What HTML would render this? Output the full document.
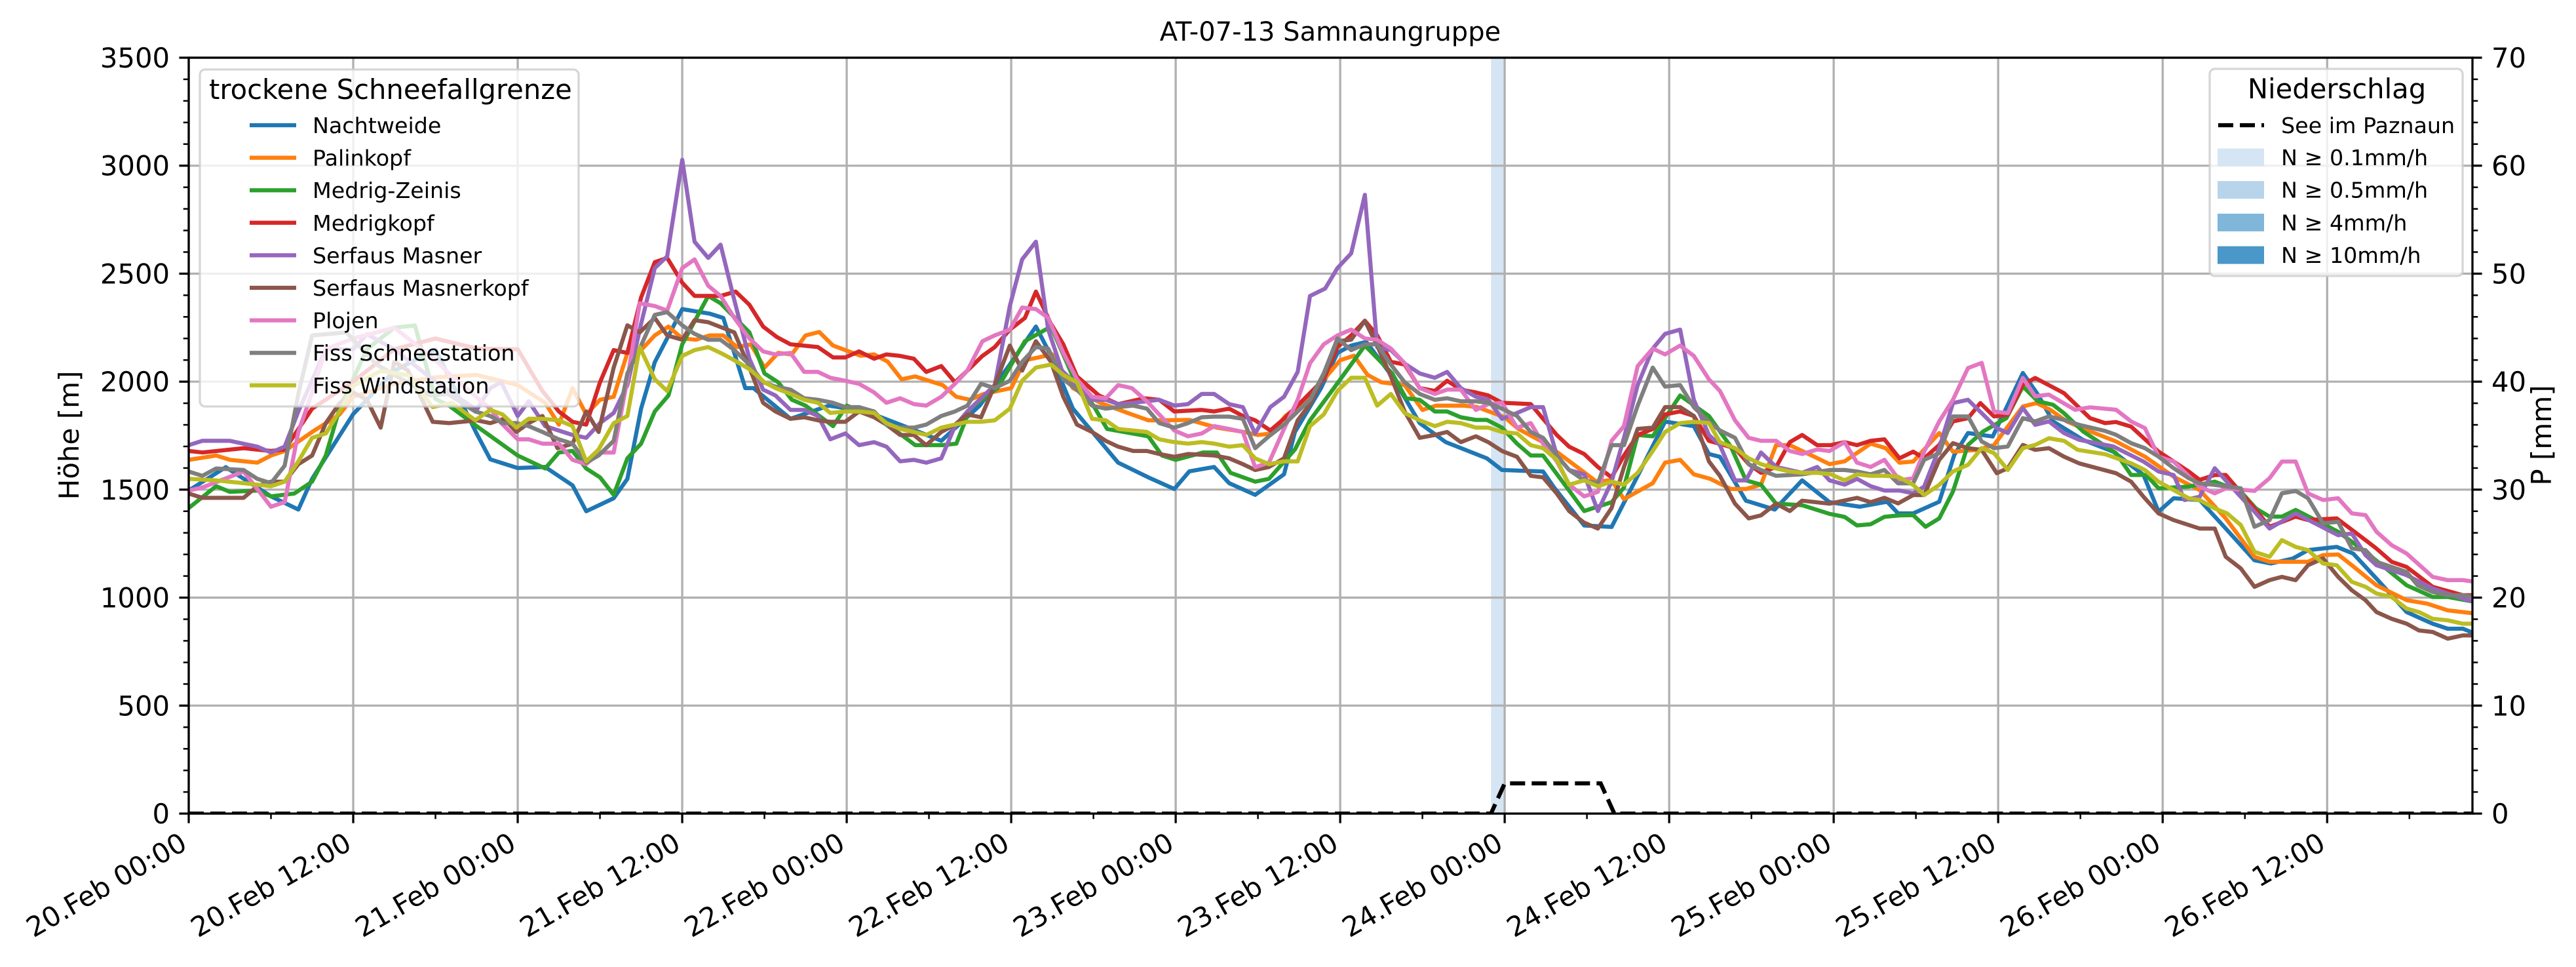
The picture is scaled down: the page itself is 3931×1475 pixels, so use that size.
<!DOCTYPE html>
<html>
<head>
<meta charset="utf-8">
<style>
html,body{margin:0;padding:0;background:#fff;}
svg{display:block;font-family:"DejaVu Sans","Liberation Sans",sans-serif;}
</style>
</head>
<body>
<svg id="chart" xmlns="http://www.w3.org/2000/svg" width="3931" height="1475" viewBox="0 0 3931 1475">
  <defs><clipPath id="plotclip"><rect x="288" y="88" width="3485" height="1153"/></clipPath></defs>
  <rect x="0" y="0" width="3931" height="1475" fill="#fff"/>
  <text x="2030" y="62" font-size="40" text-anchor="middle">AT-07-13 Samnaungruppe</text>
  <g id="bars" clip-path="url(#plotclip)"></g>
  <g id="grid"></g>
  <g id="series" clip-path="url(#plotclip)"></g>
  <g id="precip" clip-path="url(#plotclip)"></g>
  <g id="axes"></g>
  <text transform="translate(120,664) rotate(-90)" font-size="42" text-anchor="middle">Höhe [m]</text>
  <text transform="translate(3893,664) rotate(-90)" font-size="42" text-anchor="middle">P [mm]</text>
  <g id="legend1"></g>
  <g id="legend2"></g>
</svg>
<script>
const NS = "http://www.w3.org/2000/svg";
const seriesNames = ["Nachtweide","Palinkopf","Medrig-Zeinis","Medrigkopf","Serfaus Masner","Serfaus Masnerkopf","Plojen","Fiss Schneestation","Fiss Windstation"];
const seriesColors = ["#1f77b4","#ff7f0e","#2ca02c","#d62728","#9467bd","#8c564b","#e377c2","#7f7f7f","#bcbd22"];
const xTickLabels = ["20.Feb 00:00","20.Feb 12:00","21.Feb 00:00","21.Feb 12:00","22.Feb 00:00","22.Feb 12:00","23.Feb 00:00","23.Feb 12:00","24.Feb 00:00","24.Feb 12:00","25.Feb 00:00","25.Feb 12:00","26.Feb 00:00","26.Feb 12:00"];
const xTickHours = [0,12,24,36,48,60,72,84,96,108,120,132,144,156];
const yTicks = [0,500,1000,1500,2000,2500,3000,3500];
const y2Ticks = [0,10,20,30,40,50,60,70];
const precipBarStart = [95];
const precipBarEnd = [96];
const precipLine = [[0,0],[95,0],[96,2.8],[103,2.8],[104,0],[167,0]];

const nachtweide = [[0,1496],[2.7,1604],[6,1469],[8,1408],[9,1550],[12,1850],[15,2050],[18,2150],[21,1760],[22,1640],[24,1600],[26,1605],[28,1520],[29,1400],[31,1460],[32,1550],[33,1875],[34,2090],[36,2336],[38,2315],[39,2295],[40.6,1970],[41.2,1970],[43.9,1828],[46.7,1889],[49.4,1862],[52.2,1794],[54.9,1726],[57.7,1889],[59.9,2079],[61.8,2255],[62.9,2120],[64.5,1875],[67.8,1625],[70,1557],[71.9,1503],[73,1585],[74.8,1605],[75.9,1530],[77.8,1476],[79.9,1571],[80.7,1767],[82.6,1970],[83.8,2133],[84.8,2167],[85.9,2184],[87.8,2024],[89.8,1808],[91.7,1720],[94.7,1645],[95.8,1591],[98.8,1584],[99.6,1510],[101.8,1334],[103.8,1327],[105.7,1564],[107.7,1815],[109.8,1794],[110.9,1665],[111.7,1652],[113.6,1449],[115.7,1408],[117.7,1543],[119.7,1442],[121.9,1421],[123.9,1444],[124.7,1390],[125.8,1390],[127.7,1444],[128.8,1661],[129.8,1762],[131.6,1746],[133.8,2040],[134.9,1940],[136,1816],[138.2,1730],[140.4,1676],[142.6,1568],[143.7,1398],[144.8,1460],[146.7,1452],[148.6,1320],[150.7,1173],[151.9,1158],[153.5,1181],[154.6,1220],[156.7,1235],[157.9,1204],[159.6,1088],[161.8,933],[163.7,879],[164.8,856],[165.9,856],[166.8,833]];
const palinkopf = [[0,1638],[2,1658],[3,1638],[5,1625],[6,1658],[7,1679],[9,1767],[11,1848],[12,1930],[15,1990],[18,2020],[21,2031],[24,1984],[26,1902],[27,1801],[28,1970],[29,1848],[30,1916],[31,1930],[32,2133],[33,2146],[34,2214],[35,2255],[36,2200],[37,2194],[38,2214],[39,2214],[40,2160],[41,2173],[42,2065],[43,2133],[44,2126],[45,2214],[46,2230],[47,2167],[49,2120],[50,2126],[51,2092],[52,2011],[53,2024],[55,1984],[56,1930],[57,1916],[58,1943],[60,1970],[61,2099],[62,2112],[63,2126],[64.5,1970],[66.5,1902],[68.5,1855],[70,1821],[71,1821],[73,1823],[75,1787],[77,1767],[78,1753],[79,1760],[80,1841],[81,1889],[83,2024],[84,2099],[85,2120],[86,2031],[87,1997],[88.7,1984],[90,1869],[91,1889],[93,1889],[94,1882],[96,1835],[97,1781],[99,1713],[101,1618],[102.7,1537],[103.8,1544],[104.7,1456],[106.8,1530],[107.7,1625],[108.8,1638],[109.8,1571],[111,1550],[112.5,1503],[113.6,1503],[114.7,1523],[115.8,1706],[116.8,1706],[118.6,1652],[119.7,1618],[120.8,1631],[122.7,1713],[123.8,1692],[124.8,1625],[125.8,1630],[127.7,1762],[128.7,1676],[130.5,1684],[131.7,1707],[133.8,1885],[134.8,1901],[135.8,1870],[137,1816],[138.7,1770],[140.6,1723],[142.7,1653],[144.8,1560],[146.7,1498],[148.6,1367],[150.7,1189],[151.8,1166],[154.6,1166],[155.7,1197],[156.8,1200],[157.8,1150],[159.6,1057],[161.8,988],[163.3,972],[164.8,941],[165.9,933],[166.8,926]];
const medrigZeinis = [[0,1415],[2,1516],[3,1490],[5,1496],[6,1469],[7.7,1482],[9,1537],[10,1658],[11,1875],[13,2150],[15,2250],[16.5,2260],[18,1920],[19,1889],[21,1794],[24,1658],[26,1598],[27,1672],[28,1679],[29,1598],[30,1557],[31,1476],[32,1645],[33,1713],[34,1862],[35,1936],[36,2173],[37.9,2397],[38.8,2363],[40.9,2228],[42,2038],[43,1997],[44,1916],[45,1889],[47,1794],[48,1889],[50,1841],[52,1753],[53,1706],[55,1706],[56,1713],[57,1875],[59,1970],[61,2187],[62.9,2255],[64.5,2024],[66,1889],[67,1781],[70,1747],[71,1658],[72,1638],[74,1672],[75,1672],[76,1578],[77.8,1537],[78.8,1550],[80.7,1686],[81.8,1821],[83.7,1984],[85.8,2167],[87.8,2038],[88.8,1923],[89.8,1916],[90.9,1862],[91.8,1862],[92.8,1835],[93.9,1823],[94.7,1823],[95.8,1787],[96.9,1713],[97.9,1658],[98.8,1658],[100.7,1496],[101.8,1401],[103.8,1442],[104.7,1510],[105.7,1753],[106.8,1747],[108.8,1936],[110.9,1841],[112.5,1699],[113.6,1543],[114.7,1523],[115.8,1435],[117.7,1428],[119.7,1388],[120.8,1374],[121.7,1334],[122.7,1340],[123.7,1374],[124.8,1381],[125.8,1382],[126.7,1328],[127.7,1367],[128.7,1491],[129.8,1707],[130.9,1769],[132.6,1831],[133.8,1978],[134.9,1909],[136,1893],[136.8,1854],[138.2,1769],[140.6,1669],[141.7,1568],[142.8,1568],[143.7,1506],[145.9,1514],[147.8,1537],[149.7,1491],[150.8,1413],[151.8,1375],[152.7,1375],[153.7,1406],[156.8,1305],[158.8,1212],[161.8,1057],[163.7,1003],[164.8,1003],[166.8,980]];
const medrigkopf = [[0,1679],[1,1672],[4,1692],[6,1679],[7,1686],[9,1875],[12,2000],[15,2150],[18,2200],[21,2153],[24,2150],[25.8,1957],[27,1862],[28,1814],[29,1801],[30,1997],[31,2146],[32,2133],[33,2390],[34,2553],[34.9,2573],[36,2458],[36.9,2397],[38.8,2397],[39.9,2417],[40.9,2356],[41.9,2255],[42.9,2207],[43.9,2173],[45.9,2160],[47,2112],[47.9,2112],[48.9,2140],[50,2106],[50.9,2126],[51.9,2119],[52.9,2106],[53.8,2045],[54.9,2072],[55.9,1997],[56.8,2051],[57.9,2119],[58.8,2160],[59.9,2241],[61,2295],[61.8,2417],[62.9,2268],[63.8,2173],[64.8,2024],[66.4,1936],[67.8,1896],[69.7,1923],[70.8,1916],[71.9,1862],[73.9,1869],[74.8,1862],[75.9,1875],[76.9,1841],[77.8,1821],[78.9,1774],[79.9,1828],[81,1896],[82.8,2011],[83.8,2160],[84.8,2214],[85.8,2282],[86.7,2214],[87.7,2092],[88.7,2079],[89.8,1970],[90.9,1957],[91.8,2004],[92.8,1963],[93.9,1950],[94.8,1936],[95.8,1902],[97.9,1896],[98.8,1828],[99.8,1753],[100.7,1699],[101.8,1665],[102.8,1605],[103.8,1557],[104.7,1658],[105.7,1753],[106.8,1781],[107.7,1848],[108.8,1862],[109.8,1841],[110.9,1726],[112.8,1692],[113.8,1618],[114.7,1578],[115.8,1605],[116.8,1720],[117.7,1753],[118.8,1706],[119.8,1706],[120.8,1720],[121.7,1706],[122.7,1726],[123.7,1733],[124.8,1645],[125.8,1676],[126.6,1645],[127.7,1707],[128.7,1816],[129.8,1831],[130.7,1901],[131.7,1839],[132.7,1847],[133.8,1986],[134.7,2017],[136.8,1947],[138.7,1831],[139.8,1808],[140.6,1813],[141.7,1792],[143.7,1676],[145.9,1584],[146.7,1545],[147.8,1568],[148.6,1568],[150.7,1413],[151.8,1328],[153.7,1375],[154.6,1359],[156.7,1367],[158.8,1266],[159.6,1227],[160.7,1166],[161.8,1142],[163.7,1050],[165.9,1011],[166.8,1011]];
const serfausMasner = [[0,1706],[1,1726],[3,1726],[5,1699],[6,1672],[7,1699],[8,1862],[10,2150],[12,2150],[13,2220],[15,2150],[18,2000],[21,1869],[22,1970],[22.8,1997],[24,1841],[24.8,1909],[26,1794],[28,1753],[29,1740],[30,1808],[31,1855],[32,1984],[33,2268],[34,2526],[34.9,2580],[36,3027],[36.9,2648],[37.9,2573],[38.8,2634],[39.8,2377],[40.9,2106],[41.9,1963],[42.8,1936],[43.9,1869],[44.9,1869],[45.9,1841],[46.8,1733],[47.9,1760],[48.9,1706],[50,1720],[50.9,1699],[51.9,1631],[52.9,1638],[53.8,1625],[54.9,1645],[55.9,1794],[56.8,1862],[58.8,1984],[59.9,2350],[60.8,2566],[61.8,2648],[62.7,2241],[63.7,2051],[65.9,1916],[66.9,1916],[67.8,1896],[68.9,1902],[70.8,1916],[71.9,1889],[72.9,1896],[73.9,1943],[74.8,1943],[75.9,1896],[76.9,1882],[77.8,1760],[78.9,1882],[79.9,1930],[80.9,2045],[81.8,2397],[82.9,2431],[83.8,2526],[84.8,2594],[85.8,2865],[86.7,2160],[87.7,2146],[88.8,2079],[89.8,2038],[90.9,2018],[91.8,2045],[92.8,1970],[93.9,1930],[94.8,1916],[95.8,1828],[96.9,1855],[97.9,1882],[98.8,1882],[99.8,1658],[100.7,1591],[101.8,1571],[102.8,1401],[103.8,1537],[104.7,1740],[105.7,1984],[106.8,2153],[107.7,2221],[108.8,2241],[109.8,1916],[110.9,1753],[111.7,1706],[112.8,1543],[113.6,1543],[114.7,1672],[115.8,1605],[117.7,1578],[118.8,1605],[119.7,1543],[120.8,1523],[121.7,1550],[122.7,1516],[123.7,1496],[124.8,1496],[125.8,1483],[126.6,1514],[127.7,1692],[128.7,1901],[129.8,1916],[130.8,1854],[131.9,1785],[132.7,1762],[133.8,1878],[134.7,1800],[135.7,1816],[136.8,1762],[137.9,1731],[140.4,1700],[142.6,1630],[143.7,1584],[144.8,1568],[145.6,1452],[146.7,1467],[147.8,1599],[148.9,1522],[150.7,1398],[151.8,1320],[153.7,1390],[156.8,1289],[157.8,1297],[158.8,1197],[159.6,1150],[161.8,1104],[163.7,1042],[165.9,995],[166.8,980]];
const serfausMasnerkopf = [[0,1482],[1,1462],[4,1462],[5,1516],[6,1537],[7,1537],[8,1618],[9,1658],[10,1808],[11,1900],[12,1950],[13,1916],[14,1787],[15,2092],[16,2051],[17.8,1814],[19,1808],[21,1821],[22,1808],[23,1828],[23.9,1767],[24.8,1808],[25.8,1841],[26.9,1692],[28,1713],[29,1862],[29.9,1767],[31,2065],[32,2261],[32.9,2228],[34,2295],[34.9,2214],[36,2194],[36.9,2285],[37.9,2275],[39.8,2228],[40.9,2065],[41.9,1902],[42.8,1862],[43.9,1828],[44.9,1835],[45.9,1821],[46.8,1814],[47.9,1814],[48.9,1862],[50,1835],[50.9,1801],[51.9,1753],[52.9,1753],[53.8,1706],[54.9,1767],[55.9,1801],[56.8,1848],[57.8,1835],[58.8,1984],[59.9,2167],[60.8,2051],[61.8,2187],[62.9,2092],[63.8,1930],[64.8,1801],[65.9,1767],[66.9,1726],[67.8,1699],[68.9,1679],[69.9,1679],[70.8,1665],[71.9,1652],[72.9,1665],[74.8,1658],[75.9,1645],[76.9,1618],[77.8,1591],[78.8,1605],[79.9,1645],[80.9,1821],[81.8,1896],[82.8,2024],[83.8,2187],[84.8,2194],[85.8,2282],[86.7,2167],[87.7,2024],[88.7,1862],[89.8,1740],[90.9,1753],[91.8,1767],[92.8,1720],[93.9,1747],[94.8,1720],[95.8,1679],[96.9,1652],[97.9,1564],[98.8,1557],[99.8,1482],[100.7,1401],[101.8,1347],[102.8,1320],[103.8,1415],[104.7,1605],[105.7,1781],[106.8,1787],[107.7,1882],[108.8,1882],[109.8,1841],[110.9,1631],[111.7,1564],[112.8,1435],[113.8,1367],[114.7,1381],[115.8,1435],[116.8,1401],[117.7,1449],[119.7,1435],[121.7,1462],[122.7,1442],[123.7,1462],[124.7,1436],[125.8,1475],[126.6,1475],[127.7,1638],[128.7,1715],[129.8,1692],[130.8,1684],[131.9,1576],[132.7,1599],[133.8,1707],[134.7,1684],[135.7,1692],[136.8,1653],[137.9,1622],[140.6,1576],[141.7,1537],[142.6,1467],[143.7,1390],[144.8,1359],[146.7,1320],[147.8,1320],[148.6,1189],[149.7,1135],[150.7,1050],[151.8,1081],[152.7,1096],[153.7,1081],[154.6,1150],[155.7,1181],[156.8,1096],[157.8,1034],[158.8,988],[159.6,933],[160.7,902],[161.8,879],[162.7,848],[163.7,841],[164.8,810],[165.9,825],[166.8,825]];
const plojen = [[0,1496],[1,1510],[4,1584],[5,1503],[6,1421],[7,1442],[8,1767],[9,1950],[10,2150],[12,2200],[15,2250],[18,2100],[19.2,2024],[22,1875],[22.8,1808],[24,1733],[24.8,1733],[25.8,1713],[27,1713],[28,1638],[29,1618],[29.9,1672],[31,1672],[32,2011],[32.9,2363],[34,2350],[34.9,2329],[36,2526],[36.9,2566],[37.9,2444],[38.8,2397],[39.8,2295],[40.9,2200],[41.9,2140],[42.8,2126],[43.9,2133],[44.9,2045],[45.9,2045],[46.8,2018],[47.9,2004],[48.9,1990],[50,1950],[50.9,1902],[51.9,1923],[52.9,1896],[53.8,1889],[54.9,1930],[55.9,1990],[56.8,2051],[57.9,2187],[58.8,2214],[59.9,2241],[60.8,2343],[61.8,2336],[62.7,2295],[63.8,2133],[64.8,2011],[65.9,1930],[66.9,1923],[67.8,1984],[68.8,1970],[69.9,1909],[70.8,1848],[71.9,1774],[72.9,1747],[73.9,1760],[74.8,1794],[75.9,1781],[76.9,1767],[77.8,1604],[78.8,1625],[79.9,1781],[80.9,1916],[81.8,2085],[82.8,2173],[83.8,2214],[84.8,2241],[85.8,2200],[86.7,2194],[87.7,2153],[88.7,2085],[89.8,1970],[90.9,1943],[91.8,1963],[92.8,1963],[93.9,1869],[94.8,1896],[95.8,1902],[96.9,1787],[97.9,1808],[98.8,1713],[99.8,1631],[100.7,1523],[101.8,1469],[102.8,1490],[103.8,1726],[104.7,1794],[105.7,2072],[106.8,2153],[107.7,2126],[108.8,2167],[109.8,2119],[110.9,2011],[111.7,1957],[112.8,1821],[113.8,1740],[114.7,1726],[115.8,1726],[116.8,1679],[117.7,1665],[118.8,1686],[119.7,1679],[120.8,1720],[121.7,1625],[122.7,1605],[123.7,1638],[124.8,1543],[125.8,1553],[126.6,1676],[127.7,1816],[128.7,1916],[129.8,2063],[130.8,2087],[131.7,1862],[132.7,1854],[133.8,2017],[134.7,1932],[135.7,1940],[137.6,1870],[138.7,1881],[140.6,1870],[141.7,1816],[142.7,1785],[143.7,1653],[144.8,1630],[146.7,1514],[147.8,1483],[148.6,1506],[150.7,1494],[151.8,1553],[152.7,1630],[153.7,1630],[154.6,1483],[155.7,1452],[156.8,1460],[157.8,1390],[158.8,1382],[159.6,1305],[160.7,1243],[161.8,1204],[163.7,1096],[164.8,1081],[165.9,1081],[166.8,1073]];
const fissSchneestation = [[0,1584],[1,1564],[2,1598],[4,1591],[5,1550],[6,1530],[7,1611],[8,1943],[9,2214],[11.5,2228],[13.7,2079],[17.6,1936],[18.9,1943],[20.9,1862],[22,1841],[22.9,1808],[23.9,1808],[24.8,1794],[25.8,1767],[27,1733],[28,1713],[29,1625],[29.9,1658],[31,1726],[32,2038],[32.9,2153],[34,2309],[34.9,2322],[36,2261],[36.9,2221],[37.9,2194],[38.8,2194],[39.8,2146],[40.9,2079],[41.9,1997],[42.8,1977],[43.9,1963],[44.9,1923],[45.9,1916],[47,1902],[47.9,1882],[48.9,1882],[50,1862],[50.9,1801],[51.9,1787],[52.9,1787],[53.8,1801],[54.9,1841],[55.9,1862],[56.8,1889],[57.8,1990],[58.8,1970],[59.9,2004],[60.8,2092],[61.8,2160],[62.7,2153],[63.8,2011],[64.8,1963],[65.9,1889],[66.9,1875],[67.8,1882],[68.9,1889],[69.9,1875],[70.8,1808],[71.9,1787],[72.9,1808],[73.9,1835],[74.8,1838],[75.9,1838],[76.9,1828],[77.8,1692],[78.8,1747],[79.9,1801],[80.9,1862],[81.8,1916],[82.8,2038],[83.8,2200],[84.8,2146],[85.8,2173],[86.7,2173],[87.7,2079],[88.7,1997],[89.8,1943],[90.9,1916],[91.8,1923],[92.8,1909],[93.9,1909],[94.8,1902],[95.8,1875],[96.9,1841],[97.9,1767],[98.8,1740],[99.8,1658],[100.7,1591],[101.8,1543],[102.8,1530],[103.8,1706],[104.7,1706],[105.7,1889],[106.8,2065],[107.7,1977],[108.8,1984],[109.8,1882],[110.9,1814],[111.7,1774],[112.8,1740],[113.8,1618],[114.7,1591],[115.8,1564],[117.7,1571],[119.7,1591],[120.8,1591],[121.7,1584],[122.7,1571],[123.7,1591],[124.7,1529],[125.8,1529],[126.6,1638],[127.7,1669],[128.7,1839],[129.8,1839],[130.8,1723],[131.7,1692],[132.7,1700],[133.8,1831],[134.7,1816],[135.7,1839],[136.8,1823],[137.9,1800],[139.8,1772],[140.6,1754],[141.7,1715],[142.7,1692],[143.7,1653],[144.8,1599],[145.9,1553],[146.7,1529],[147.8,1522],[149.7,1506],[150.7,1328],[151.8,1359],[152.7,1483],[153.7,1494],[154.6,1460],[155.7,1344],[156.8,1351],[157.8,1228],[158.8,1220],[159.6,1166],[161.8,1119],[162.6,1057],[163.7,1026],[164.8,1011],[165.9,1011],[166.8,1003]];
const fissWindstation = [[0,1550],[2,1543],[4,1530],[6,1516],[7,1537],[8,1631],[9,1740],[10,1760],[11,1862],[12,1980],[14,2050],[16,2030],[17.8,1882],[19.2,1902],[20.9,1821],[22,1869],[22.9,1848],[23.9,1787],[24.8,1828],[25.8,1828],[27,1821],[28,1794],[29,1631],[29.9,1686],[31,1808],[32,1841],[32.9,2160],[34,2011],[34.9,1957],[36,2119],[36.9,2146],[37.9,2160],[38.8,2133],[39.8,2099],[40.9,2058],[42,1997],[42.8,1970],[43.9,1943],[44.9,1916],[45.9,1902],[46.8,1855],[47.9,1862],[48.9,1862],[50,1855],[50.9,1808],[51.9,1781],[52.9,1767],[53.8,1753],[54.9,1787],[55.9,1801],[56.8,1814],[57.8,1814],[58.8,1821],[59.9,1875],[60.8,2004],[61.8,2065],[62.9,2079],[63.8,2031],[64.8,1997],[65.9,1828],[66.9,1821],[67.8,1781],[69.9,1767],[70.8,1733],[71.9,1720],[72.9,1713],[73.9,1720],[74.8,1713],[75.9,1699],[76.9,1706],[77.8,1645],[78.8,1618],[79.9,1631],[80.9,1631],[81.8,1794],[82.8,1848],[83.8,1957],[84.8,2018],[85.8,2018],[86.7,1889],[87.7,1943],[88.7,1855],[89.8,1821],[90.9,1794],[91.8,1814],[92.8,1808],[93.9,1787],[94.8,1787],[95.8,1767],[96.9,1760],[97.9,1706],[98.8,1692],[99.8,1638],[100.7,1523],[101.8,1543],[102.8,1516],[103.8,1537],[104.7,1523],[105.7,1578],[106.8,1679],[107.7,1767],[108.8,1808],[109.8,1814],[110.9,1808],[111.7,1720],[112.8,1692],[113.8,1645],[114.7,1618],[115.8,1598],[116.8,1584],[117.7,1578],[118.8,1578],[119.8,1571],[120.8,1543],[121.7,1571],[122.7,1564],[123.7,1564],[124.7,1560],[125.8,1522],[126.6,1475],[127.7,1522],[128.7,1584],[129.8,1615],[130.8,1692],[131.7,1669],[132.7,1591],[133.8,1692],[134.7,1707],[135.7,1738],[136.8,1726],[137.8,1684],[139.8,1664],[141.7,1622],[142.7,1591],[143.7,1537],[144.8,1498],[145.9,1460],[146.7,1452],[147.8,1413],[148.7,1390],[149.7,1336],[150.7,1212],[151.8,1189],[152.7,1266],[153.7,1235],[154.6,1220],[155.7,1158],[156.7,1150],[157.8,1073],[158.8,1050],[159.6,1019],[160.7,1003],[161.8,949],[162.7,933],[163.7,902],[164.8,895],[165.9,879],[166.8,879]];
const seriesData = [nachtweide,palinkopf,medrigZeinis,medrigkopf,serfausMasner,serfausMasnerkopf,plojen,fissSchneestation,fissWindstation];

// layout
const L = 288, R = 3773, T = 88, B = 1241;
const HMAX = 166.6, YMAX = 3500, PMAX = 70;
function xScale(h){ return L + h * (R - L) / HMAX; }
function yScale(v){ return B - v * (B - T) / YMAX; }
function pScale(p){ return B - p * (B - T) / PMAX; }
function mk(tag, attrs, parent){
  const e = document.createElementNS(NS, tag);
  for (const k in attrs) e.setAttribute(k, attrs[k]);
  parent.appendChild(e);
  return e;
}
const gBars = document.getElementById('bars');
const gGrid = document.getElementById('grid');
const gSeries = document.getElementById('series');
const gPrecip = document.getElementById('precip');
const gAxes = document.getElementById('axes');

// precipitation bars
precipBarStart.forEach((s, i) => {
  const r = mk('rect', {x: xScale(s), y: T, width: xScale(precipBarEnd[i]) - xScale(s), height: B - T, fill: '#d6e5f3'}, gBars);
  
  
});

// grid
xTickHours.forEach(h => {
  const l = mk('line', {x1: xScale(h), x2: xScale(h), y1: T, y2: B, stroke: '#b0b0b0', 'stroke-width': 3.3}, gGrid);
  
  
});
yTicks.forEach(v => {
  const l = mk('line', {x1: L, x2: R, y1: yScale(v), y2: yScale(v), stroke: '#b0b0b0', 'stroke-width': 3.3}, gGrid);
  
  
});

// series
seriesData.forEach((data, i) => {
  const pts = data.slice().sort((a, b) => a[0] - b[0]).map(d => xScale(d[0]).toFixed(1) + ',' + yScale(d[1]).toFixed(1)).join(' ');
  const pl = mk('polyline', {points: pts, fill: 'none', stroke: seriesColors[i], 'stroke-width': 6.25, 'stroke-linejoin': 'round', 'stroke-linecap': 'square'}, gSeries);
  
  
});

// precip dashed line
{
  const pts = precipLine.map(d => xScale(d[0]).toFixed(1) + ',' + pScale(d[1]).toFixed(1)).join(' ');
  const pl = mk('polyline', {points: pts, fill: 'none', stroke: '#000', 'stroke-width': 6.25, 'stroke-dasharray': '23 10'}, gPrecip);
  
  
}

// spines
{
  const sp = mk('rect', {x: L, y: T, width: R - L, height: B - T, fill: 'none', stroke: '#000', 'stroke-width': 3.3}, gAxes);
  
  
}
// x ticks
for (let h = 0; h <= HMAX; h += 6) {
  const major = (h % 12 === 0);
  const t = mk('line', {x1: xScale(h), x2: xScale(h), y1: B, y2: B + (major ? 14.6 : 8.3), stroke: '#000', 'stroke-width': major ? 3.3 : 2.5}, gAxes);
  
  
}
xTickHours.forEach((h, i) => {
  const x = xScale(h), y = 1294;
  const t = mk('text', {x: x, y: y, 'font-size': 41.7, 'text-anchor': 'end', transform: 'rotate(-30 ' + x + ' ' + y + ')'}, gAxes);
  t.textContent = xTickLabels[i];
  
  
});
// left y ticks
for (let v = 0; v <= YMAX; v += 100) {
  const major = (v % 500 === 0);
  const t = mk('line', {x1: L, x2: L - (major ? 14.6 : 8.3), y1: yScale(v), y2: yScale(v), stroke: '#000', 'stroke-width': major ? 3.3 : 2.5}, gAxes);
  
  
}
yTicks.forEach(v => {
  const t = mk('text', {x: 259, y: yScale(v) + 15, 'font-size': 41.7, 'text-anchor': 'end'}, gAxes);
  t.textContent = String(v);
  
  
});
// right y ticks
for (let p = 0; p <= PMAX; p += 2) {
  const major = (p % 10 === 0);
  const t = mk('line', {x1: R, x2: R + (major ? 14.6 : 8.3), y1: pScale(p), y2: pScale(p), stroke: '#000', 'stroke-width': major ? 3.3 : 2.5}, gAxes);
  
  
}
y2Ticks.forEach(p => {
  const t = mk('text', {x: 3802, y: pScale(p) + 15, 'font-size': 41.7, 'text-anchor': 'start'}, gAxes);
  t.textContent = String(p);
  
  
});

// legend 1
const gL1 = document.getElementById('legend1');
{
  const box = mk('rect', {x: 305, y: 106, width: 578, height: 514, rx: 8, fill: 'rgba(255,255,255,0.8)', stroke: 'rgba(204,204,204,0.8)', 'stroke-width': 3.3}, gL1);
  
  
  const title = mk('text', {x: 319, y: 151, 'font-size': 41.7}, gL1);
  title.textContent = 'trockene Schneefallgrenze';
  
  
}
seriesNames.forEach((n, i) => {
  const y = 191 + i * 49.6;
  const ln = mk('line', {x1: 381, x2: 452, y1: y, y2: y, stroke: seriesColors[i], 'stroke-width': 6.25}, gL1);
  
  
  const t = mk('text', {x: 477, y: y + 12, 'font-size': 33.3}, gL1);
  t.textContent = n;
  
  
});

// legend 2
const gL2 = document.getElementById('legend2');
const precipLegendLabels = ['N ≥ 0.1mm/h','N ≥ 0.5mm/h','N ≥ 4mm/h','N ≥ 10mm/h'];
const precipLegendColors = ['#d6e5f3','#b8d4ea','#7fb6d9','#4a97c9'];
{
  const box = mk('rect', {x: 3372, y: 105, width: 386, height: 316, rx: 8, fill: 'rgba(255,255,255,0.8)', stroke: 'rgba(204,204,204,0.8)', 'stroke-width': 3.3}, gL2);
  
  
  const title = mk('text', {x: 3566, y: 150, 'font-size': 41.7, 'text-anchor': 'middle'}, gL2);
  title.textContent = 'Niederschlag';
  
  
  const dl = mk('line', {x1: 3385, x2: 3455, y1: 191, y2: 191, stroke: '#000', 'stroke-width': 6.25, 'stroke-dasharray': '23 10'}, gL2);
  
  
  const dt = mk('text', {x: 3481, y: 203, 'font-size': 33.3}, gL2);
  dt.textContent = 'See im Paznaun';
  
  
}
precipLegendLabels.forEach((lab, i) => {
  const y = 240 + i * 49.7;
  const r = mk('rect', {x: 3384, y: y - 13.5, width: 71, height: 27, fill: precipLegendColors[i]}, gL2);
  
  
  const t = mk('text', {x: 3481, y: y + 12, 'font-size': 33.3}, gL2);
  t.textContent = lab;
  
  
});
</script>
</body>
</html>
